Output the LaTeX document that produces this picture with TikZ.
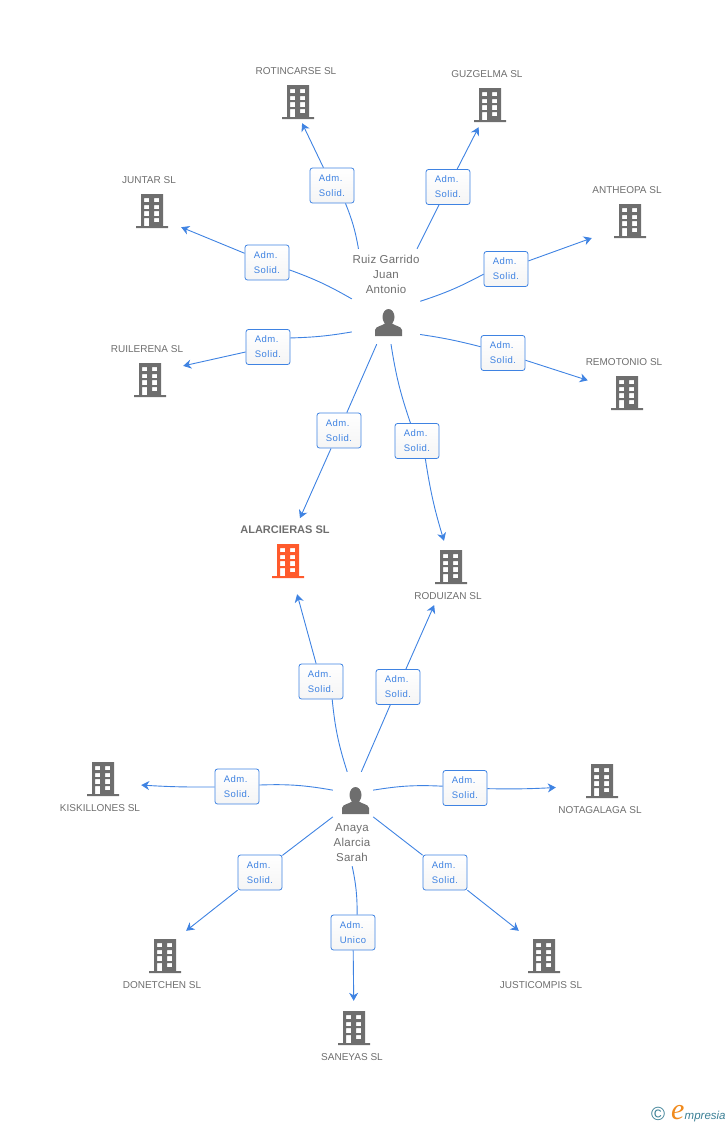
\documentclass[tikz,border=0pt]{standalone}
\usepackage{fontspec}
\setmainfont{Liberation Sans}
\newfontfamily\boxfont[LetterSpace=5]{Liberation Sans}
\newfontfamily\namefont[LetterSpace=2]{Liberation Sans}
\newfontfamily\logofont{Liberation Serif}
\usetikzlibrary{arrows.meta}
\definecolor{linkblue}{HTML}{3F83E2}
\definecolor{icongrey}{HTML}{6E6E6E}
\definecolor{mainorange}{HTML}{FF5A2C}
\definecolor{logoteal}{HTML}{3A7F95}
\definecolor{logoorange}{HTML}{F08A1D}
\tikzset{
  bldg/.style={inner sep=0pt, minimum width=#1, path picture={
    \begin{scope}[shift={(path picture bounding box.center)}]
      \fill[bldgcolor, even odd rule] (-11,-17) rectangle (11,15) (-16,15) rectangle (16,17)
        (-8,-13) rectangle (-3,-9) (2,-13) rectangle (7,-9)
        (-8,-6) rectangle (-3,-2) (2,-6) rectangle (7,-2)
        (-8,0) rectangle (-3,5) (2,0) rectangle (7,5)
        (-8,7) rectangle (-3,15) (2,7) rectangle (7,11);
    \end{scope}}},
  person/.style={inner sep=0pt, minimum width=30, minimum height=32, path picture={
    \begin{scope}[shift={(path picture bounding box.center)}]
      \fill[icongrey] (0,-6) ellipse (6 and 8);
      \fill[icongrey] (-13.5,13) -- (-13.5,7) .. controls (-13,3) and (-6,3) .. (-3,0) -- (3,0)
        .. controls (6,3) and (13,3) .. (13.5,7) -- (13.5,13) -- cycle;
    \end{scope}}},
  hub/.style={inner sep=0pt},
  admbox/.style={draw=linkblue, line width=0.8pt, rounded corners=2.5pt, top color=white, bottom color=black!4,
    minimum width=44, minimum height=35, inner sep=0pt, text=linkblue, align=left,
    font=\boxfont\fontsize{9.5}{15}\selectfont},
  company/.style={inner sep=0pt, text=icongrey, font=\fontsize{10}{12}\selectfont},
  fullname/.style={inner sep=0pt, text=icongrey, align=center, font=\namefont\fontsize{11.5}{15}\selectfont},
  link/.style={draw=linkblue, line width=0.9pt},
  arrowlink/.style={link, -{Stealth[length=8pt,width=9pt,inset=2.5pt]}}
}
\begin{document}
\begin{tikzpicture}[x=1pt, y=-1pt]
  \useasboundingbox (0,0) rectangle (728,1125);

  % Personas
  \node[hub, minimum width=68, minimum height=95] (juan) at (386,296.5) {};
  \node[person] (juanicon) at (388.5,323) {};
  \node[fullname] (juantxt) at (386,274.5) {Ruiz Garrido\\Juan\\Antonio};
  \node[hub, minimum width=40, minimum height=94] (sarah) at (353,819) {};
  \node[person] (sarahicon) at (355.5,801) {};
  \node[fullname] (sarahtxt) at (352,843) {Anaya\\Alarcia\\Sarah};

  % Empresas
  \colorlet{bldgcolor}{icongrey}
  \node[bldg=40, minimum height=42] (rotincarse) at (298,102) {};
  \node[bldg=40, minimum height=44] (guzgelma) at (490,105) {};
  \node[bldg=58, minimum height=44] (juntar) at (152,211) {};
  \node[bldg=76, minimum height=44] (antheopa) at (630,221) {};
  \node[bldg=66, minimum height=44] (ruilerena) at (150,380) {};
  \node[bldg=78, minimum height=44] (remotonio) at (627,393) {};
  \node[bldg=40, minimum height=52] (roduizan) at (451,567) {};
  \node[bldg=76, minimum height=44] (kiskillones) at (103,779) {};
  \node[bldg=92, minimum height=44] (notagalaga) at (602,781) {};
  \node[bldg=42, minimum height=50] (donetchen) at (165,956) {};
  \node[bldg=50, minimum height=50] (justicompis) at (544,956) {};
  \node[bldg=40, minimum height=54] (saneyas) at (354,1028) {};
  \begin{scope}
    \colorlet{bldgcolor}{mainorange}
    \node[bldg=40, minimum height=66] (alarcieras) at (288,561) {};
  \end{scope}

  % Nombres de las empresas
  \node[company] (rotincarsetxt) at (296,71) {ROTINCARSE SL};
  \node[company] (guzgelmatxt) at (487,74) {GUZGELMA SL};
  \node[company] (juntartxt) at (149,180) {JUNTAR SL};
  \node[company] (antheopatxt) at (627,190) {ANTHEOPA SL};
  \node[company] (ruilerenatxt) at (147,349) {RUILERENA SL};
  \node[company] (remotoniotxt) at (624,362) {REMOTONIO SL};
  \node[company, font=\fontsize{11}{12}\selectfont\bfseries] (alarcierastxt) at (285,529.5) {ALARCIERAS SL};
  \node[company] (roduizantxt) at (448,596) {RODUIZAN SL};
  \node[company] (kiskillonestxt) at (100,808) {KISKILLONES SL};
  \node[company] (notagalagatxt) at (600,810) {NOTAGALAGA SL};
  \node[company] (donetchentxt) at (162,985) {DONETCHEN SL};
  \node[company] (justicompistxt) at (541,985) {JUSTICOMPIS SL};
  \node[company] (saneyastxt) at (352,1057) {SANEYAS SL};

  % Cargos
  \node[admbox] (admrot) at (332,185.5) {Adm.\\Solid.};
  \node[admbox] (admguz) at (448,187) {Adm.\\Solid.};
  \node[admbox] (admjun) at (267,262.5) {Adm.\\Solid.};
  \node[admbox] (admant) at (506,269) {Adm.\\Solid.};
  \node[admbox] (admrui) at (268,347) {Adm.\\Solid.};
  \node[admbox] (admrem) at (503,353) {Adm.\\Solid.};
  \node[admbox] (admala) at (339,430.5) {Adm.\\Solid.};
  \node[admbox] (admrod) at (417,441) {Adm.\\Solid.};
  \node[admbox] (admala2) at (321,681.5) {Adm.\\Solid.};
  \node[admbox] (admrod2) at (398,687) {Adm.\\Solid.};
  \node[admbox] (admkis) at (237,786.5) {Adm.\\Solid.};
  \node[admbox] (admnot) at (465,788) {Adm.\\Solid.};
  \node[admbox] (admdon) at (260,872.5) {Adm.\\Solid.};
  \node[admbox] (admjus) at (445,872.5) {Adm.\\Solid.};
  \node[admbox] (admsan) at (353,932.5) {Adm.\\Unico};

  % Enlaces de Ruiz Garrido
  \draw[link] (juan.120.5) to[bend right=6] (admrot.-53);
  \draw[arrowlink] (admrot) -- (rotincarse.-79);
  \draw[link] (juan.57) -- (admguz);
  \draw[arrowlink] (admguz) -- (guzgelma);
  \draw[link] (juan.184) to[bend right=5] (admjun);
  \draw[arrowlink] (admjun) -- (juntar.-29);
  \draw[link] (juan.352) to[bend right=5] (admant.193);
  \draw[arrowlink] (admant) -- (antheopa.204);
  \draw[link] (juan.226) to[bend left=4] (admrui.22);
  \draw[arrowlink] (admrui) -- (ruilerena.23);
  \draw[link] (juan.-48) to[bend left=3] (admrem);
  \draw[arrowlink] (admrem) -- (remotonio);
  \draw[link] (juan.259) -- (admala);
  \draw[arrowlink, shorten >=10.5pt] (admala) -- (alarcieras.77);
  \draw[link] (juan.276) to[bend right=5] (admrod);
  \draw[arrowlink] (admrod.-65) to[bend right=4] (roduizan.105);

  % Enlaces de Anaya
  \draw[link] (sarah.97) to[bend left=6] (admala2.-58);
  \draw[arrowlink] (admala2) -- (alarcieras);
  \draw[link] (sarah.80) -- (admrod2);
  \draw[arrowlink, shorten >=13pt] (admrod2) -- (roduizan);
  \draw[link] (sarah.125) to[bend right=6] (admkis);
  \draw[arrowlink] (admkis) to[bend left=2] (kiskillones.-9);
  \draw[link] (sarah.55) to[bend left=6] (admnot);
  \draw[arrowlink] (admnot) to[bend right=2] (notagalaga.188.6);
  \draw[link] (sarah.174) -- (admdon);
  \draw[arrowlink] (admdon) -- (donetchen.50);
  \draw[link] (sarah.6) -- (admjus);
  \draw[arrowlink] (admjus) -- (justicompis.135);
  \draw[link] (sarah.269) to[bend left=6] (admsan.77);
  \draw[arrowlink] (admsan) -- (saneyas);

  % Logo
  \node[inner sep=0pt, text=logoteal, font=\fontsize{19}{19}\selectfont] (logoc) at (658,1114) {©};
  \node[inner sep=0pt, anchor=base west, text=logoorange, font=\logofont\itshape\fontsize{30}{30}\selectfont] (logoe) at (671,1119) {e};
  \node[inner sep=0pt, anchor=base west, text=logoteal, font=\itshape\fontsize{11.5}{12}\selectfont] (logotxt) at (684.5,1119) {mpresia};
\end{tikzpicture}
\end{document}
